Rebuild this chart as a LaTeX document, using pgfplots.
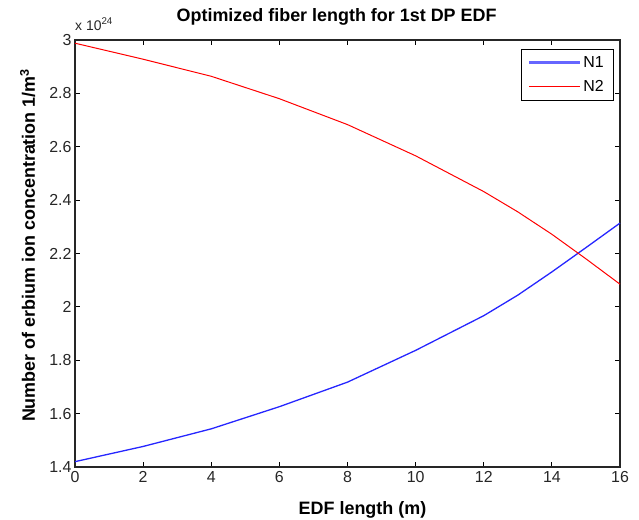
\documentclass[border=0pt]{standalone}
\usepackage{pgfplots}
\pgfplotsset{compat=1.18}
\usepackage{fontspec}
\setmainfont{Liberation Sans}
\begin{document}
\begin{tikzpicture}
\path[use as bounding box] (-75bp,-53bp) rectangle (564bp,467bp);
\begin{axis}[
  at={(0,0)}, anchor=south west,
  scale only axis, width=545bp, height=427bp,
  clip=false,
  xmin=0, xmax=16, ymin=1.4, ymax=3,
  xtick={0,2,4,6,8,10,12,14,16},
  ytick={1.4,1.6,1.8,2,2.2,2.4,2.6,2.8,3},
  /pgf/number format/assume math mode=true,
  yticklabel style={/pgf/number format/fixed, /pgf/number format/precision=1},
  tick label style={font=\fontsize{16}{18}\selectfont, text=black!85},
  xticklabel style={yshift=-1bp},
  tick align=inside, major tick length=5bp,
  tick style={black, line width=0.8bp},
  axis line style={black!85, line width=1.4bp},
  title={Optimized fiber length for 1st DP EDF},
  title style={font=\fontsize{18}{20}\selectfont\bfseries, at={(axis description cs:0.48,1.0304)}, anchor=base},
  xlabel={EDF length (m)},
  xlabel style={font=\fontsize{18}{20}\selectfont\bfseries, at={(axis description cs:0.5275,-0.1124)}, anchor=base},
  ylabel={Number of erbium ion concentration 1/m\textsuperscript{3}},
  ylabel style={font=\fontsize{18}{20}\selectfont\bfseries, at={(axis description cs:-0.0734,0.519)}, anchor=base, rotate=0},
  legend style={at={(axis description cs:0.987,0.979)}, anchor=north east,
    font=\fontsize{16}{18}\selectfont, inner xsep=7bp, inner ysep=5bp, row sep=8bp},
  legend cell align=left,
]
\addplot[blue!85!white, line width=1.3bp, forget plot] coordinates {
(0,1.420) (2,1.477) (4,1.543) (6,1.626) (8,1.718) (10,1.837) (12,1.967) (13,2.044) (14,2.131) (15,2.222) (16,2.314)};
\addplot[red, line width=1bp, forget plot] coordinates {
(0,2.988) (2,2.928) (4,2.864) (6,2.780) (8,2.683) (10,2.566) (12,2.432) (13,2.356) (14,2.272) (15,2.180) (16,2.085)};
\addlegendimage{legend image code/.code={\draw[draw=blue!60!white, line width=2.6bp] (0bp,0bp) -- (51bp,0bp);}}
\addlegendentry{N1}
\addlegendimage{legend image code/.code={\draw[draw=red, line width=1.1bp] (0bp,0bp) -- (51bp,0bp);}}
\addlegendentry{N2}
\node[anchor=base west, font=\fontsize{14}{16}\selectfont, inner sep=0pt, text=black!85] at (axis description cs:0.0,1.0234) {x 10\textsuperscript{24}};
\end{axis}
\end{tikzpicture}
\end{document}
